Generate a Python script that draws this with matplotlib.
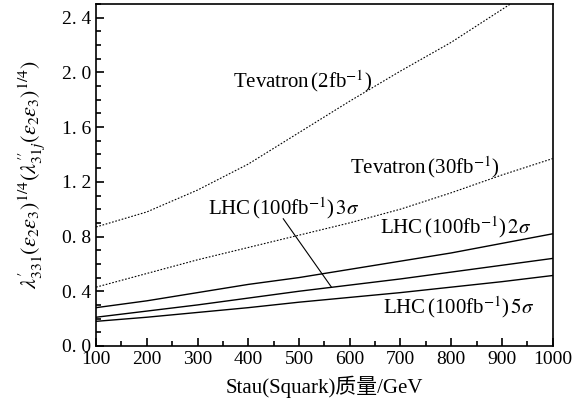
import matplotlib
matplotlib.use("Agg")
import matplotlib.pyplot as plt
from matplotlib.ticker import MultipleLocator, FuncFormatter

plt.rcParams["font.family"] = ["Liberation Serif", "Noto Sans CJK SC"]
plt.rcParams["mathtext.fontset"] = "stix"

# mass in GeV
mass = [100, 200, 300, 400, 500, 600, 700, 800, 900, 1000]
tev_2fb = [0.87, 0.98, 1.14, 1.33, 1.56, 1.79, 2.01, 2.22, 2.46, 2.70]
tev_30fb = [0.43, 0.53, 0.63, 0.72, 0.81, 0.90, 1.00, 1.12, 1.25, 1.37]
lhc_2sigma = [0.28, 0.33, 0.39, 0.45, 0.50, 0.56, 0.62, 0.68, 0.75, 0.82]
lhc_3sigma = [0.21, 0.255, 0.30, 0.35, 0.40, 0.445, 0.49, 0.54, 0.59, 0.64]
lhc_5sigma = [0.18, 0.21, 0.245, 0.28, 0.32, 0.355, 0.39, 0.43, 0.47, 0.515]

fig = plt.figure(figsize=(5.86, 4.07), dpi=100)
ax = fig.add_axes([0.164, 0.150, 0.779, 0.840])

dots = (0, (1.5, 1.5))
ax.plot(mass, tev_2fb, color="black", lw=0.8, linestyle=dots)
ax.plot(mass, tev_30fb, color="black", lw=0.8, linestyle=dots)
ax.plot(mass, lhc_2sigma, color="black", lw=1.0)
ax.plot(mass, lhc_3sigma, color="black", lw=1.0)
ax.plot(mass, lhc_5sigma, color="black", lw=1.0)

fs = 15
ax.text(370, 1.94, r"Tevatron$\,$(2fb$^{-1}$)", fontsize=fs, va="center")
ax.text(600, 1.31, r"Tevatron$\,$(30fb$^{-1}$)", fontsize=fs, va="center")
ax.text(321, 1.01, r"LHC$\,$(100fb$^{-1}$)$\,3\sigma$", fontsize=fs, va="center")
ax.text(660, 0.87, r"LHC$\,$(100fb$^{-1}$)$\,2\sigma$", fontsize=fs, va="center")
ax.text(665, 0.285, r"LHC$\,$(100fb$^{-1}$)$\,5\sigma$", fontsize=fs, va="center")
ax.plot([469, 564], [0.93, 0.43], color="black", lw=0.8)

ax.set_xlim(100, 1000)
ax.set_ylim(0, 2.5)
ax.xaxis.set_major_locator(MultipleLocator(100))
ax.xaxis.set_minor_locator(MultipleLocator(50))
ax.yaxis.set_major_locator(MultipleLocator(0.4))
ax.yaxis.set_minor_locator(MultipleLocator(0.1))
ax.yaxis.set_major_formatter(FuncFormatter(lambda v, p: f"{v:.1f}".replace(".", ". ")))
ax.tick_params(which="both", direction="in", top=False, right=False, labelsize=14, width=1.2)
ax.tick_params(which="major", length=6)
ax.tick_params(which="minor", length=3.5)
for s in ax.spines.values():
    s.set_linewidth(1.2)

ax.set_xlabel("Stau(Squark)质量/GeV", fontsize=15, labelpad=6)
ax.set_ylabel(r"$\lambda^{\prime}_{331}(\varepsilon_2\varepsilon_3)^{1/4}(\lambda^{\prime\prime}_{31j}(\varepsilon_2\varepsilon_3)^{1/4})$",
              fontsize=16)
ax.yaxis.set_label_coords(-0.108, 0.5)

fig.savefig("out.png", dpi=100)
